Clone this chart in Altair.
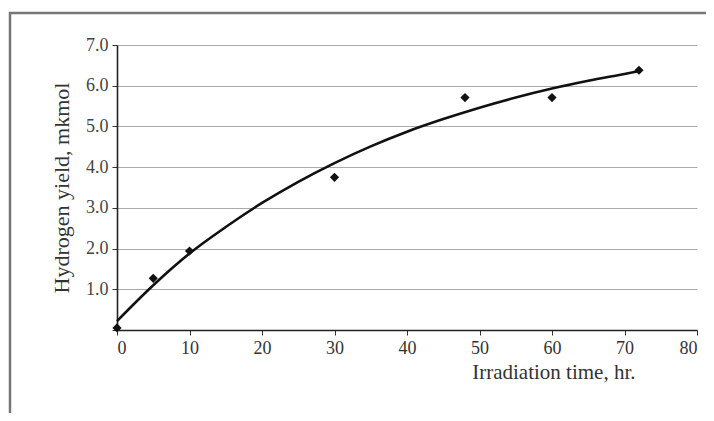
import altair as alt
import pandas as pd

# measured points
time_pts = [0, 5, 10, 30, 48, 60, 72]
yield_pts = [0.05, 1.27, 1.94, 3.75, 5.71, 5.71, 6.38]

# fitted curve
curve_t = [0, 5, 10, 15, 20, 25, 30, 35, 40, 45, 50, 55, 60, 65, 70, 72]
curve_y = [0.22, 1.1, 1.88, 2.53, 3.12, 3.64, 4.1, 4.51, 4.87, 5.18, 5.46, 5.71, 5.93, 6.12, 6.29, 6.36]

x_ticks = [0, 10, 20, 30, 40, 50, 60, 70, 80]
y_ticks = [0, 1, 2, 3, 4, 5, 6, 7]

pts = pd.DataFrame({"t": time_pts, "y": yield_pts})
crv = pd.DataFrame({"t": curve_t, "y": curve_y})

FONT = "Liberation Serif"

xscale = alt.Scale(domain=[0, 80], nice=False, zero=True)
yscale = alt.Scale(domain=[0, 7], nice=False, zero=True)

xaxis = alt.Axis(
    title="Irradiation time, hr.",
    values=x_ticks,
    grid=False,
    domainColor="#222222",
    domainWidth=1.6,
    tickColor="#333333",
    tickSize=5,
    tickWidth=1,
    labelPadding=4,
    labelFont=FONT,
    labelFontSize=18,
    labelColor="#333333",
    titleFont=FONT,
    titleFontSize=21,
    titleFontWeight="normal",
    titleColor="#333333",
    titleAlign="right",
    titleAnchor="start",
    titleX=518,
    titleY=48,
    titleBaseline="alphabetic",
)

yaxis = alt.Axis(
    title="Hydrogen yield, mkmol",
    values=y_ticks,
    labelExpr="datum.value == 0 ? '' : format(datum.value, '.1f')",
    grid=True,
    gridColor="#aaaaaa",
    gridWidth=1,
    domainColor="#222222",
    domainWidth=1.6,
    tickColor="#333333",
    tickSize=5,
    tickWidth=1,
    labelPadding=4,
    labelFont=FONT,
    labelFontSize=18,
    labelColor="#444444",
    titleFont=FONT,
    titleFontSize=22,
    titleFontWeight="normal",
    titleColor="#333333",
    titlePadding=12,
)

base_x = alt.X("t:Q", scale=xscale, axis=xaxis)
base_y = alt.Y("y:Q", scale=yscale, axis=yaxis)

one = pd.DataFrame({"a": [0]})
frame_top = alt.Chart(one).mark_rule(
    color="#777777", strokeWidth=2.5, clip=False
).encode(x=alt.value(-108), x2=alt.value(589), y=alt.value(-32))
frame_left = alt.Chart(one).mark_rule(
    color="#777777", strokeWidth=2.5, clip=False
).encode(x=alt.value(-107), y=alt.value(-33), y2=alt.value(420))

line = alt.Chart(crv).mark_line(
    color="#111111", strokeWidth=2.6, interpolate="monotone"
).encode(x=base_x, y=base_y)

points = alt.Chart(pts).mark_point(
    shape="diamond", filled=True, color="#111111", size=85, opacity=1
).encode(x=alt.X("t:Q", scale=xscale), y=alt.Y("y:Q", scale=yscale))

chart = alt.layer(frame_top, frame_left, line, points).properties(
    width=580,
    height=285,
    autosize=alt.AutoSizeParams(type="none"),
    padding={"left": 109, "top": 37, "right": 9, "bottom": 83},
    background="white",
).configure_view(stroke=None)

chart.save("out.html", embed_options={"renderer": "svg", "actions": False})
